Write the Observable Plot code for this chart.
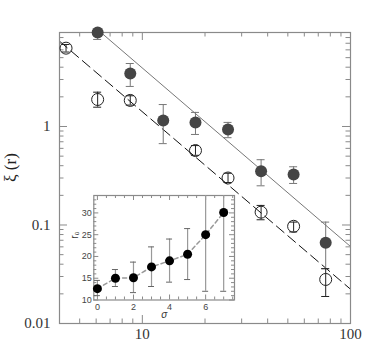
<!DOCTYPE html>
<html><head><meta charset="utf-8">
<script src="https://cdn.jsdelivr.net/npm/d3@7"></script>
<script src="https://cdn.jsdelivr.net/npm/@observablehq/plot@0.6"></script>
<style>
body{margin:0;background:#fff;}
#wrap{position:relative;width:382px;height:348px;}
#wrap svg{position:absolute;}
</style></head><body><div id="wrap"></div>
<script>
// ---- main panel data ----
const filledR  = [6.1, 8.75, 12.6, 18, 25.8, 37.2, 53.3, 76];
const filledXi = [9.0, 3.45, 1.15, 1.1, 0.93, 0.352, 0.325, 0.066];
const filledLo = [7.65, 2.55, 0.67, 0.83, 0.77, 0.25, 0.264, 0.036];
const filledHi = [12, 4.36, 1.67, 1.39, 1.1, 0.46, 0.39, 0.107];
const openR  = [4.3, 6.1, 8.75, 18, 25.8, 37.2, 53.3, 76];
const openXi = [6.24, 1.88, 1.84, 0.57, 0.30, 0.135, 0.097, 0.028];
const openLo = [5.7, 1.57, 1.65, 0.51, 0.27, 0.113, 0.085, 0.0188];
const openHi = [6.8, 2.23, 2.05, 0.64, 0.335, 0.158, 0.107, 0.036];
const solidFitR  = [6.49, 100];
const solidFitXi = [8.59, 0.0605];
const dashFitR  = [4, 100];
const dashFitXi = [7.35, 0.0223];
const xTickLabels = [10, 100];
const xMinorTicks = [5,6,7,8,9,20,30,40,50,60,70,80,90];
const yTickLabels = [0.01, 0.1, 1];
const yMinorTicks = [0.02,0.03,0.04,0.05,0.06,0.07,0.08,0.09,0.2,0.3,0.4,0.5,0.6,0.7,0.8,0.9,2,3,4,5,6,7,8,9];
const yLabel = "ξ (r)";

// ---- inset data ----
const sigma = [0, 1, 2, 3, 4, 5, 6, 7];
const r0    = [12.6, 15.0, 15.1, 17.6, 19.0, 20.5, 25.0, 30.1];
const r0Lo  = [11.0, 13.1, 11.7, 13.1, 14.1, 14.7, 12.0, 12.0];
const r0Hi  = [14.5, 17.0, 18.7, 22.2, 24.0, 26.4, 40, 40];
const insetXTicks = [0, 2, 4, 6];
const insetXMinor = [0.5,1,1.5,2.5,3,3.5,4.5,5,5.5,6.5,7,7.5];
const insetYTicks = [10, 15, 20, 25, 30];
const insetYMinor = [11,12,13,14,16,17,18,19,21,22,23,24,26,27,28,29,31,32,33];
const insetXLabel = "σ";
const insetYLabel = "r₀";

const filled = filledR.map((r,i)=>({r, xi:filledXi[i], lo:filledLo[i], hi:filledHi[i]}));
const open = openR.map((r,i)=>({r, xi:openXi[i], lo:openLo[i], hi:openHi[i]}));
const solidFit = solidFitR.map((r,i)=>({r, xi:solidFitXi[i]}));
const dashFit = dashFitR.map((r,i)=>({r, xi:dashFitXi[i]}));
const inset = sigma.map((s,i)=>({s, r0:r0[i], lo:r0Lo[i], hi:r0Hi[i]}));

const W=382, H=348, mL=59, mR=32, mT=32, mB=25;
const fw = W-mL-mR, fh = H-mT-mB;
const serif = "'Liberation Serif','DejaVu Serif',serif";
const axisGrey = "#8a8a8a";

const main = Plot.plot({
  width: W, height: H, marginLeft: mL, marginRight: mR, marginTop: mT, marginBottom: mB,
  x: {type: "log", domain: [4, 100], ticks: xTickLabels, tickSize: 0, tickPadding: 5, tickFormat: d => String(d), label: null},
  y: {type: "log", domain: [0.01, 9], ticks: yTickLabels, tickSize: 0, tickPadding: 9, tickFormat: d => String(d), label: null},
  style: {fontFamily: serif, fontSize: "15px", color: "#333", background: "white", overflow: "visible"},
  marks: [
    Plot.line(solidFit, {x: "r", y: "xi", stroke: "#777", strokeWidth: 1, clip: true}),
    Plot.line(dashFit, {x: "r", y: "xi", stroke: "#111", strokeWidth: 1, strokeDasharray: "10,5", clip: true}),
    // inward ticks
    Plot.ruleX(xTickLabels, {x: d=>d, stroke: axisGrey, insetTop: fh-8}),
    Plot.ruleX(xTickLabels, {x: d=>d, stroke: axisGrey, insetBottom: fh-8}),
    Plot.ruleX(xMinorTicks, {x: d=>d, stroke: axisGrey, insetTop: fh-4.5}),
    Plot.ruleX(xMinorTicks, {x: d=>d, stroke: axisGrey, insetBottom: fh-4.5}),
    Plot.ruleY(yTickLabels, {y: d=>d, stroke: axisGrey, insetRight: fw-8}),
    Plot.ruleY(yTickLabels, {y: d=>d, stroke: axisGrey, insetLeft: fw-8}),
    Plot.ruleY(yMinorTicks, {y: d=>d, stroke: axisGrey, insetRight: fw-4.5}),
    Plot.ruleY(yMinorTicks, {y: d=>d, stroke: axisGrey, insetLeft: fw-4.5}),
    Plot.frame({stroke: axisGrey, strokeWidth: 1.2}),
    // error bars
    Plot.ruleX(filled, {x: "r", y1: "lo", y2: "hi", stroke: "#777", clip: true}),
    Plot.ruleY(filled, {y: "lo", x1: "r", x2: "r", insetLeft: -4, insetRight: -4, stroke: "#777", clip: true}),
    Plot.ruleY(filled, {y: "hi", x1: "r", x2: "r", insetLeft: -4, insetRight: -4, stroke: "#777", clip: true}),
    Plot.ruleX(open, {x: "r", y1: "lo", y2: "hi", stroke: "#222", clip: true}),
    Plot.ruleY(open, {y: "lo", x1: "r", x2: "r", insetLeft: -4, insetRight: -4, stroke: "#222", clip: true}),
    Plot.ruleY(open, {y: "hi", x1: "r", x2: "r", insetLeft: -4, insetRight: -4, stroke: "#222", clip: true}),
    Plot.dot(filled, {x: "r", y: "xi", r: 6, fill: "#454545", stroke: "none"}),
    Plot.dot(open, {x: "r", y: "xi", r: 6, fill: "none", stroke: "#222", strokeWidth: 1}),
    Plot.text([yLabel], {text: d=>d, frameAnchor: "left", dx: -49, dy: 4, rotate: -90, fontSize: 17, fill: "#222"})
  ]
});

// inset
const iL0 = 54, iT0 = 185, iW = 190, iH = 140;
const imL = 39.3, imT = 10, ifw = 140.7, ifh = 104.5;
const imR = iW - imL - ifw, imB = iH - imT - ifh;
const sans = "'Liberation Sans','DejaVu Sans',sans-serif";
const insetGrey = "#999";

const insetPlot = Plot.plot({
  width: iW, height: iH, marginLeft: imL, marginRight: imR, marginTop: imT, marginBottom: imB,
  x: {domain: [-0.2, 7.6], ticks: insetXTicks, tickSize: 0, tickPadding: 4, label: null},
  y: {domain: [10, 34], ticks: insetYTicks, tickSize: 0, tickPadding: 2, label: null},
  style: {fontFamily: sans, fontSize: "9px", color: "#444", background: "transparent", overflow: "visible"},
  marks: [
    Plot.frame({fill: "white", stroke: "none"}),
    Plot.ruleX(insetXTicks, {x: d=>d, stroke: axisGrey, insetTop: ifh-5}),
    Plot.ruleX(insetXTicks, {x: d=>d, stroke: axisGrey, insetBottom: ifh-5}),
    Plot.ruleX(insetXMinor, {x: d=>d, stroke: axisGrey, insetTop: ifh-3}),
    Plot.ruleX(insetXMinor, {x: d=>d, stroke: axisGrey, insetBottom: ifh-3}),
    Plot.ruleY(insetYTicks, {y: d=>d, stroke: axisGrey, insetRight: ifw-5}),
    Plot.ruleY(insetYTicks, {y: d=>d, stroke: axisGrey, insetLeft: ifw-5}),
    Plot.ruleY(insetYMinor, {y: d=>d, stroke: axisGrey, insetRight: ifw-3}),
    Plot.ruleY(insetYMinor, {y: d=>d, stroke: axisGrey, insetLeft: ifw-3}),
    Plot.frame({stroke: axisGrey, strokeWidth: 1.2}),
    Plot.line(inset, {x: "s", y: "r0", stroke: insetGrey, strokeDasharray: "4,3"}),
    Plot.ruleX(inset, {x: "s", y1: "lo", y2: "hi", stroke: insetGrey, strokeWidth: 1.2, clip: true}),
    Plot.ruleY(inset, {y: "lo", x1: "s", x2: "s", insetLeft: -3, insetRight: -3, stroke: "#666", clip: true}),
    Plot.ruleY(inset, {y: "hi", x1: "s", x2: "s", insetLeft: -3, insetRight: -3, stroke: "#666", clip: true}),
    Plot.dot(inset, {x: "s", y: "r0", r: 4.5, fill: "#000", stroke: "none"}),
    Plot.text([insetXLabel], {text: d=>d, frameAnchor: "bottom", dy: 17.5, fontStyle: "italic", fontSize: 10, fill: "#333"}),
    Plot.text([insetYLabel], {text: d=>d, frameAnchor: "left", dx: -19, dy: -9, rotate: -90, fontSize: 10, fill: "#333"})
  ]
});

const wrap = document.getElementById("wrap");
main.style.left = "0px"; main.style.top = "0px";
insetPlot.style.left = iL0 + "px"; insetPlot.style.top = iT0 + "px";
wrap.appendChild(main);
wrap.appendChild(insetPlot);
</script>
</body></html>
